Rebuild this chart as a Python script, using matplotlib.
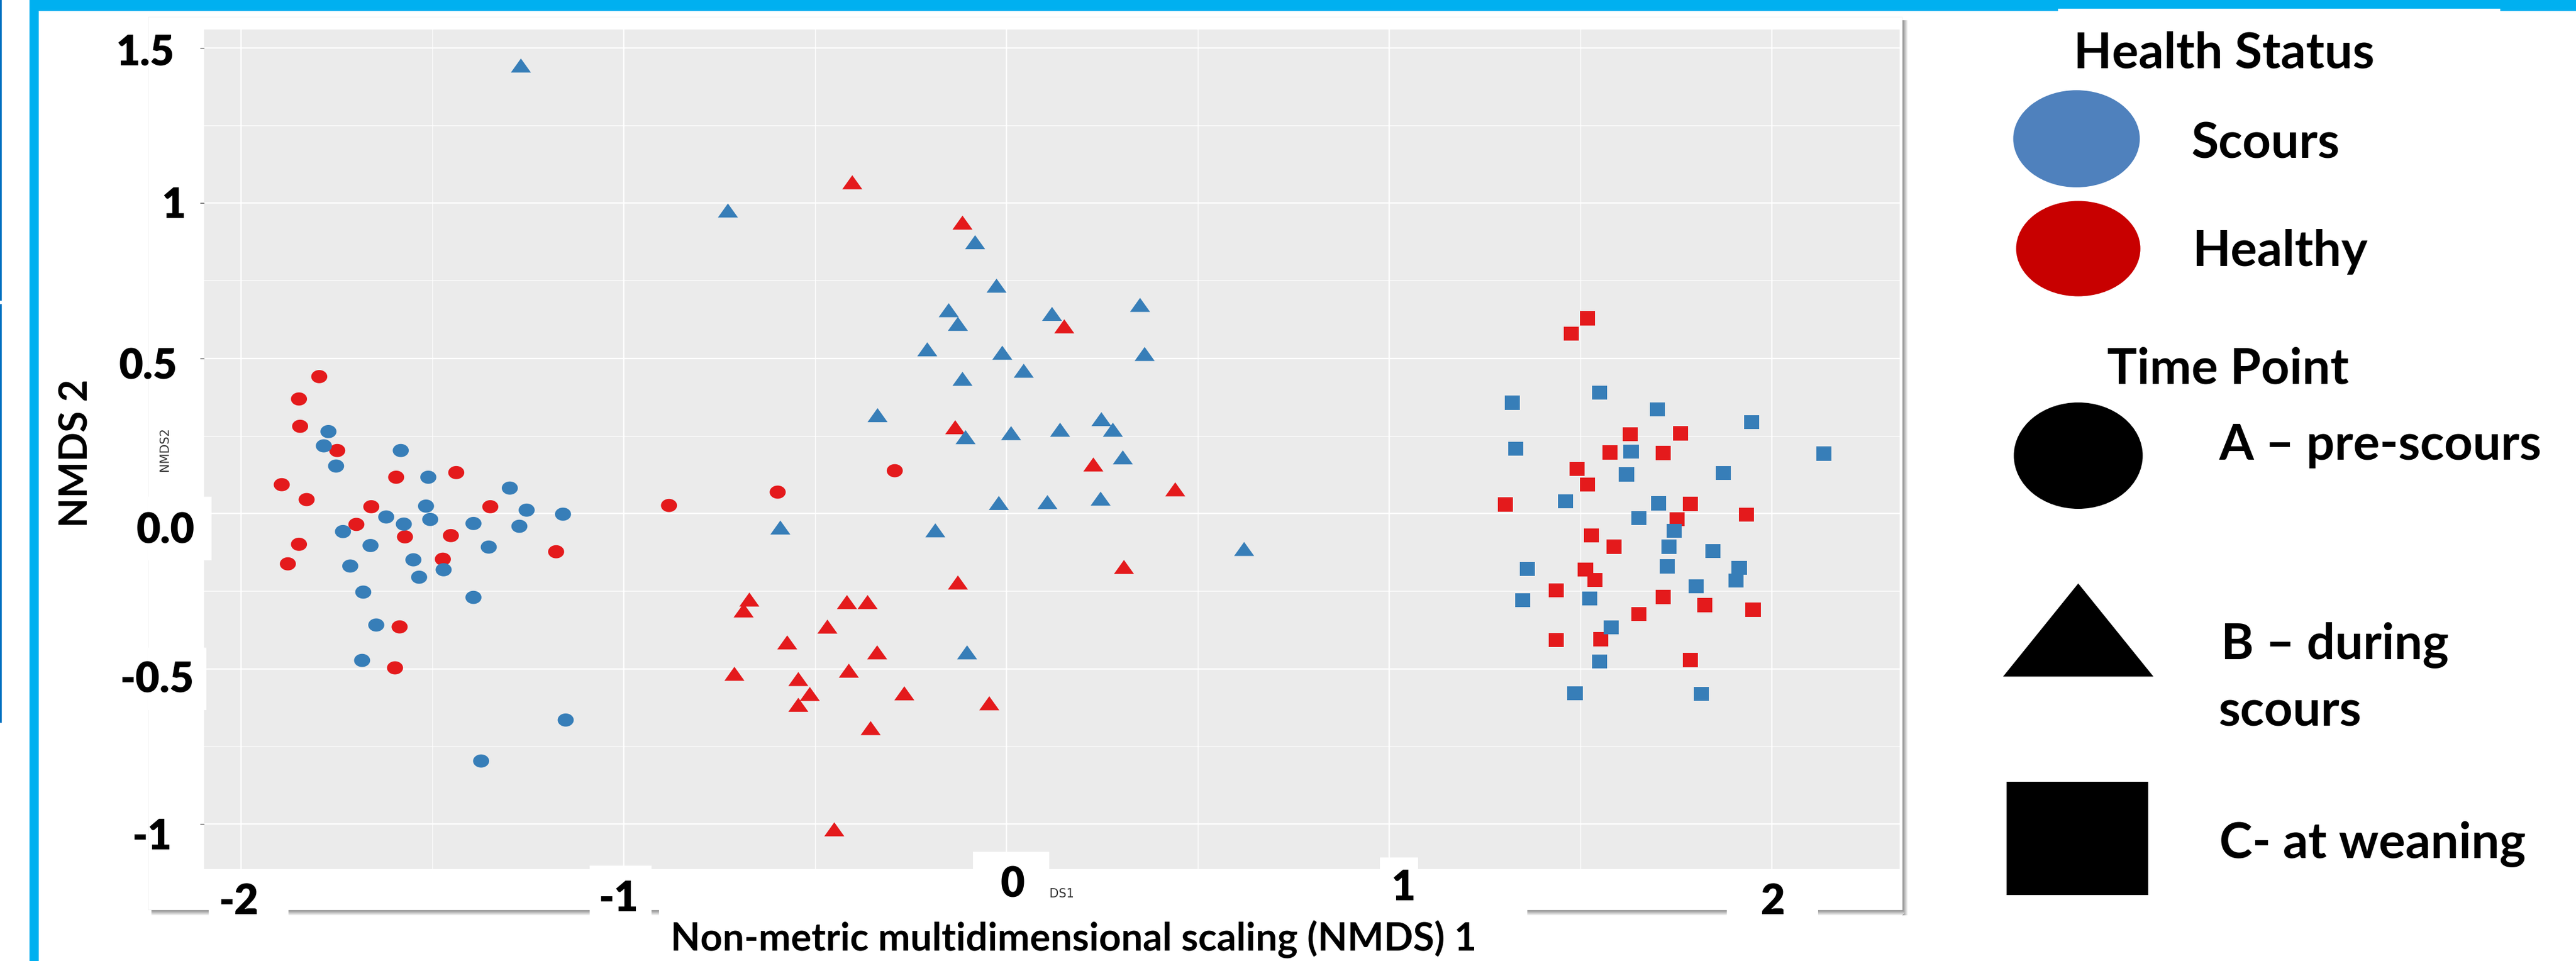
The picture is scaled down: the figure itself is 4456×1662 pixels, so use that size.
import numpy as np
import matplotlib
matplotlib.use("Agg")
import matplotlib.pyplot as plt
from matplotlib.path import Path
from matplotlib.patches import Rectangle, Ellipse, Polygon

# ---------------- data ----------------
# Time point A (circles)
a_scours_x = [-1.772, -1.784, -1.752, -1.583, -1.511, -1.298, -1.517, -1.254, -1.159, -1.621,
              -1.575, -1.506, -1.393, -1.273, -1.734, -1.662, -1.353, -1.550, -1.471, -1.535,
              -1.715, -1.681, -1.393, -1.647, -1.684, -1.152, -1.373]
a_scours_y = [0.264, 0.218, 0.153, 0.203, 0.117, 0.082, 0.024, 0.011, -0.002, -0.011,
              -0.034, -0.019, -0.032, -0.041, -0.058, -0.103, -0.108, -0.149, -0.181, -0.205,
              -0.169, -0.253, -0.270, -0.359, -0.473, -0.665, -0.797]
a_healthy_x = [-1.796, -1.849, -1.846, -1.749, -1.894, -1.829, -1.595, -1.438, -1.660, -1.699,
               -1.572, -1.452, -1.849, -1.878, -1.473, -1.349, -1.177, -1.586, -1.598, -0.882,
               -0.598, -0.292]
a_healthy_y = [0.441, 0.369, 0.281, 0.203, 0.093, 0.045, 0.117, 0.132, 0.022, -0.035,
               -0.075, -0.071, -0.099, -0.162, -0.147, 0.022, -0.123, -0.365, -0.497, 0.026,
               0.069, 0.138]
# Time point B (triangles)
b_scours_x = [-1.269, -0.728, -0.082, -0.026, -0.151, -0.127, 0.119, 0.349, -0.207, -0.011,
              0.361, 0.045, -0.115, -0.337, -0.107, 0.012, 0.140, 0.248, 0.278, 0.304,
              -0.020, 0.107, 0.246, -0.591, -0.186, 0.621, -0.103]
b_scours_y = [1.443, 0.976, 0.874, 0.734, 0.655, 0.611, 0.643, 0.672, 0.529, 0.518,
              0.514, 0.460, 0.434, 0.317, 0.246, 0.259, 0.270, 0.304, 0.270, 0.181,
              0.034, 0.037, 0.048, -0.045, -0.054, -0.114, -0.447]
b_healthy_x = [-0.403, -0.115, 0.151, -0.134, 0.227, 0.441, 0.307, -0.127, -0.672, -0.687,
               -0.417, -0.363, -0.468, -0.573, -0.338, -0.711, -0.544, -0.412, -0.514, -0.544,
               -0.267, -0.045, -0.355, -0.450]
b_healthy_y = [1.067, 0.937, 0.603, 0.278, 0.158, 0.078, -0.172, -0.222, -0.277, -0.312,
               -0.285, -0.285, -0.364, -0.415, -0.447, -0.516, -0.533, -0.506, -0.581, -0.616,
               -0.579, -0.611, -0.691, -1.017]
# Time point C (squares)
c_scours_x = [1.550, 1.322, 1.701, 1.947, 2.136, 1.331, 1.632, 1.620, 1.873, 1.461,
              1.704, 1.653, 1.745, 1.731, 1.846, 1.727, 1.915, 1.906, 1.361, 1.802,
              1.349, 1.524, 1.580, 1.550, 1.486, 1.816]
c_scours_y = [0.390, 0.357, 0.335, 0.294, 0.193, 0.209, 0.199, 0.126, 0.130, 0.039,
              0.033, -0.015, -0.056, -0.107, -0.121, -0.170, -0.175, -0.216, -0.178, -0.235,
              -0.279, -0.273, -0.367, -0.476, -0.579, -0.581]
c_healthy_x = [1.518, 1.476, 1.630, 1.761, 1.577, 1.716, 1.491, 1.518, 1.304, 1.787,
               1.934, 1.752, 1.529, 1.588, 1.513, 1.538, 1.437, 1.716, 1.825, 1.951,
               1.653, 1.437, 1.553, 1.787]
c_healthy_y = [0.629, 0.580, 0.256, 0.258, 0.197, 0.195, 0.144, 0.094, 0.029, 0.031,
               -0.003, -0.019, -0.071, -0.107, -0.181, -0.214, -0.247, -0.269, -0.295, -0.310,
               -0.324, -0.407, -0.405, -0.472]

xtick_vals = [-2, -1, 0, 1, 2]
xtick_labels = ["-2", "-1", "0", "1", "2"]
ytick_vals = [1.5, 1, 0.5, 0, -0.5, -1]
ytick_labels = ["1.5", "1", "0.5", "0.0", "-0.5", "-1"]

x_title = "Non-metric multidimensional scaling (NMDS) 1"
y_title = "NMDS 2"
legend_health = ["Scours", "Healthy"]
legend_time = ["A \u2013 pre-scours", "B \u2013 during\nscours", "C- at weaning"]

# ---------------- style ----------------
W, H = 4456, 1662
BLUE = "#377EB8"
RED = "#E41A1C"
CYAN = "#00B0F0"
FONT = ["Lato", "DejaVu Sans"]

fig = plt.figure(figsize=(W / 100, H / 100), dpi=100)
fig.patch.set_facecolor("white")

# background layer in pixel coordinates (y downwards)
bg = fig.add_axes([0, 0, 1, 1], zorder=0)
bg.set_xlim(0, W); bg.set_ylim(H, 0); bg.axis("off")

# slide frame
bg.add_patch(Rectangle((0, 0), 3, 520, fc="#0070C0", ec="none"))
bg.add_patch(Rectangle((0, 526), 3, 724, fc="#0070C0", ec="none"))
bg.add_patch(Rectangle((51, 0), 16, H, fc=CYAN, ec="none"))
bg.add_patch(Rectangle((51, 0), 3509, 19, fc=CYAN, ec="none"))
bg.add_patch(Rectangle((3560, 0), 765, 15, fc=CYAN, ec="none"))
bg.add_patch(Rectangle((4325, 0), W - 4325, 19, fc=CYAN, ec="none"))

# pasted ggplot image with drop shadow
img_l, img_t, img_r, img_b = 256, 29, 3290, 1573
for k in range(10):
    g = 0.52 + 0.048 * k
    bg.add_patch(Rectangle((img_r + k, img_t + 6), 1, img_b - img_t + 4, fc=(g, g, g), ec="none"))
    bg.add_patch(Rectangle((img_l + 6, img_b + k), img_r - img_l + 4 - k, 1, fc=(g, g, g), ec="none"))
bg.add_patch(Rectangle((img_l, img_t), img_r - img_l, img_b - img_t, fc="white", ec="#F2F2F2", lw=0.8))

# ---------------- scatter panel ----------------
pl, pt, pr, pb = 353, 51, 3286, 1503
ax = fig.add_axes([pl / W, (H - pb) / H, (pr - pl) / W, (pb - pt) / H], zorder=1)
ax.set_facecolor("#EBEBEB")
ax.set_xlim(-2.097, 2.334)
ax.set_ylim(-1.145, 1.559)
ax.set_xticks(xtick_vals)
ax.set_xticks([-1.5, -0.5, 0.5, 1.5], minor=True)
ax.set_yticks(ytick_vals)
ax.set_yticks([1.25, 0.75, 0.25, -0.25, -0.75], minor=True)
ax.grid(which="major", color="white", lw=1.7)
ax.grid(which="minor", color="white", lw=0.9)
ax.set_axisbelow(True)
for s in ax.spines.values():
    s.set_visible(False)
ax.tick_params(which="both", labelleft=False, labelbottom=False)
ax.tick_params(axis="y", which="major", length=5, width=1, color="#555555")
ax.tick_params(axis="y", which="minor", length=0)
ax.tick_params(axis="x", which="both", length=0)


def make_marker(kind):
    if kind == "ellipse":
        t = np.linspace(0, 2 * np.pi, 64)
        v = np.column_stack([0.5 * np.cos(t), 0.5 * 0.82 * np.sin(t)])
        return Path(v, closed=True)
    if kind == "triangle":
        h = 0.35
        return Path([(-0.5, -h), (0.5, -h), (0, h), (-0.5, -h)], closed=True)
    h = 0.46
    return Path([(-0.5, -h), (0.5, -h), (0.5, h), (-0.5, h), (-0.5, -h)], closed=True)


m_circ = make_marker("ellipse")
m_tri = make_marker("triangle")
m_sq = make_marker("square")
s_circ, s_tri, s_sq = 20.0 ** 2, 25.0 ** 2, 19.0 ** 2

series = [
    (a_healthy_x, a_healthy_y, RED, m_circ, s_circ),
    (a_scours_x, a_scours_y, BLUE, m_circ, s_circ),
    (b_healthy_x, b_healthy_y, RED, m_tri, s_tri),
    (b_scours_x, b_scours_y, BLUE, m_tri, s_tri),
    (c_healthy_x, c_healthy_y, RED, m_sq, s_sq),
    (c_scours_x, c_scours_y, BLUE, m_sq, s_sq),
]
for xs, ys, col, mk, sz in series:
    ax.scatter(xs, ys, s=sz, marker=mk, c=col, edgecolors="none", zorder=3)

# faint original ggplot axis titles
ax.text(0.5, -0.0296, "NMDS1", transform=ax.transAxes, ha="center", va="center",
        fontsize=15, color="#333333", family="DejaVu Sans")
ax.text(-0.0232, 0.5, "NMDS2", transform=ax.transAxes, ha="center", va="center",
        rotation=90, fontsize=15, color="#333333", family="DejaVu Sans")

# ---------------- overlay layer ----------------
ov = fig.add_axes([0, 0, 1, 1], zorder=2)
ov.set_xlim(0, W); ov.set_ylim(H, 0); ov.axis("off")
ov.patch.set_alpha(0)

# white label boxes
for (x0, y0, x1, y1) in [(256, 859, 366, 969), (256, 1120, 357, 1228),
                         (361, 1503, 499, 1592), (1020, 1497, 1127, 1592),
                         (1683, 1473, 1815, 1566), (2387, 1483, 2453, 1570),
                         (2987, 1503, 3145, 1592), (1140, 1566, 2642, H)]:
    ov.add_patch(Rectangle((x0, y0), x1 - x0, y1 - y0, fc="white", ec="none"))


def to_px(xd, yd):
    dx, dy = ax.transData.transform((xd, yd))
    return dx, H - dy


TICK_FS = 52
# per-label pixel offsets of the pasted text boxes
ytick_dx = [251, 300, 256, 286, 271, 263]
ytick_dy = [9, 5, 15, 30, 20, 23]
for v, lab, cx, dy in zip(ytick_vals, ytick_labels, ytick_dx, ytick_dy):
    _, py = to_px(0, v)
    ov.text(cx, py + dy, lab, ha="center", va="center", fontsize=TICK_FS,
            fontweight="heavy", family=FONT)
xtick_dx = [-5, -9, 10, 24, 2]
xtick_y = [1560, 1555, 1530, 1536, 1560]
for v, lab, dx, cy in zip(xtick_vals, xtick_labels, xtick_dx, xtick_y):
    px, _ = to_px(v, 0)
    ov.text(px + dx, cy, lab, ha="center", va="center", fontsize=TICK_FS,
            fontweight="heavy", family=FONT)

ov.text(1160, 1645, x_title, ha="left", va="baseline", fontsize=48,
        fontweight="bold", family=FONT)
ov.text(133, 784, y_title, ha="center", va="center", rotation=90, fontsize=48,
        fontweight="bold", family=FONT)

# ---------------- legend ----------------
LFS = 62
ov.text(3587, 117, "Health Status", ha="left", va="baseline", fontsize=LFS,
        fontweight="bold", family=FONT)
ov.add_patch(Ellipse((3592, 240), 219, 168, fc="#4F81BD", ec="none"))
ov.add_patch(Ellipse((3595, 430), 215, 165, fc="#C80000", ec="none"))
ov.text(3790, 273, legend_health[0], ha="left", va="baseline", fontsize=LFS,
        fontweight="bold", family=FONT)
ov.text(3792, 460, legend_health[1], ha="left", va="baseline", fontsize=LFS,
        fontweight="bold", family=FONT)

ov.text(3645, 663, "Time Point", ha="left", va="baseline", fontsize=LFS,
        fontweight="bold", family=FONT)
ov.add_patch(Ellipse((3595, 788), 223, 184, fc="black", ec="none"))
ov.add_patch(Polygon([(3465, 1170), (3725, 1170), (3595, 1009)], closed=True,
                     fc="black", ec="none"))
ov.add_patch(Rectangle((3471, 1352), 245, 196, fc="black", ec="none"))
ov.text(3838, 795, legend_time[0], ha="left", va="baseline", fontsize=LFS,
        fontweight="bold", family=FONT)
b1, b2 = legend_time[1].split("\n")
ov.text(3842, 1140, b1, ha="left", va="baseline", fontsize=LFS,
        fontweight="bold", family=FONT)
ov.text(3838, 1256, b2, ha="left", va="baseline", fontsize=LFS,
        fontweight="bold", family=FONT)
ov.text(3839, 1484, legend_time[2], ha="left", va="baseline", fontsize=LFS,
        fontweight="bold", family=FONT)

fig.savefig("out.png", dpi=100, facecolor="white")
